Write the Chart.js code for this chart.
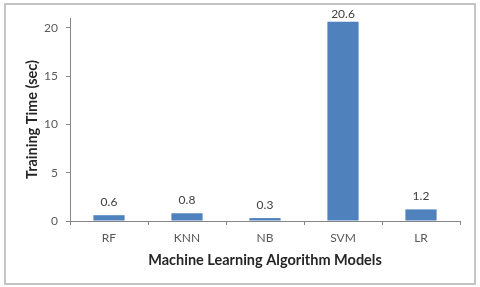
<!DOCTYPE html>
<html lang="en">
<head>
    <meta charset="UTF-8">
    <title>Training Time by Model</title>
    <script src="https://cdn.jsdelivr.net/npm/chart.js"></script>
    <style>
        body {
            margin: 0;
            background: #ffffff;
        }
        .chart-box {
            position: relative;
            width: 480px;
            height: 287px;
        }
    </style>
</head>
<body>
    <div class="chart-box">
        <canvas id="timeChart"></canvas>
    </div>

    <script>
        const models = ['RF', 'KNN', 'NB', 'SVM', 'LR'];
        const trainingTimes = [0.6, 0.8, 0.3, 20.6, 1.2];
        const yTicks = [0, 5, 10, 15, 20];

        const tickFont = { family: 'Lato', size: 12 };
        const titleFont = { family: 'Lato', size: 14.5, weight: 'bold' };

        // frame around the whole figure
        const framePlugin = {
            id: 'frame',
            beforeDraw(chart) {
                const ctx = chart.ctx;
                ctx.save();
                ctx.fillStyle = '#ffffff';
                ctx.fillRect(0, 0, chart.width, chart.height);
                ctx.strokeStyle = '#c4c4c4';
                ctx.lineWidth = 2;
                ctx.strokeRect(5, 4, 470, 280);
                ctx.restore();
            }
        };

        // value labels above each bar
        const valueLabels = {
            id: 'valueLabels',
            afterDatasetsDraw(chart) {
                const ctx = chart.ctx;
                const meta = chart.getDatasetMeta(0);
                ctx.save();
                ctx.font = '12px Lato';
                ctx.fillStyle = '#404040';
                ctx.textAlign = 'center';
                ctx.textBaseline = 'middle';
                meta.data.forEach((bar, i) => {
                    const y = Math.max(bar.y - 13, 14);
                    ctx.fillText(trainingTimes[i].toFixed(1), bar.x, y);
                });
                ctx.restore();
            }
        };

        new Chart(document.getElementById('timeChart'), {
            type: 'bar',
            data: {
                labels: models,
                datasets: [{
                    label: 'Training Time (sec)',
                    data: trainingTimes,
                    backgroundColor: '#4f81bd',
                    borderWidth: 0,
                    categoryPercentage: 1,
                    barPercentage: 0.4
                }]
            },
            options: {
                responsive: true,
                maintainAspectRatio: false,
                animation: false,
                layout: {
                    padding: { top: 18, right: 20, left: 0, bottom: 0 }
                },
                plugins: {
                    legend: { display: false },
                    tooltip: { enabled: false }
                },
                scales: {
                    x: {
                        grid: {
                            offset: true,
                            drawOnChartArea: false,
                            drawTicks: true,
                            tickLength: 4,
                            color: '#868686'
                        },
                        border: { color: '#868686', width: 1 },
                        ticks: {
                            font: tickFont,
                            color: '#595959',
                            padding: 6,
                            maxRotation: 0
                        },
                        title: {
                            display: true,
                            text: 'Machine Learning Algorithm Models',
                            font: titleFont,
                            color: '#262626',
                            padding: { top: 0, bottom: 18 }
                        },
                        afterFit(scale) {
                            scale.height = 66;
                        }
                    },
                    y: {
                        min: 0,
                        max: 21,
                        grid: {
                            drawOnChartArea: false,
                            drawTicks: true,
                            tickLength: 4,
                            color: '#868686'
                        },
                        border: { color: '#868686', width: 1 },
                        ticks: {
                            stepSize: 5,
                            includeBounds: false,
                            font: tickFont,
                            color: '#595959',
                            padding: 8
                        },
                        afterBuildTicks(scale) {
                            scale.ticks = yTicks.map(v => ({ value: v }));
                        },
                        title: {
                            display: true,
                            text: 'Training Time (sec)',
                            font: titleFont,
                            color: '#262626',
                            padding: { top: 24, bottom: 0 }
                        },
                        afterFit(scale) {
                            scale.width = 70;
                        }
                    }
                }
            },
            plugins: [framePlugin, valueLabels]
        });
    </script>
</body>
</html>
